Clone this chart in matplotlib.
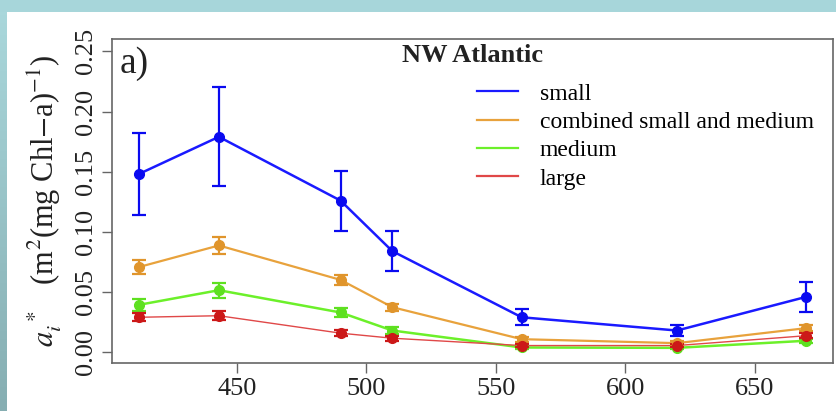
import numpy as np
import matplotlib
matplotlib.use('Agg')
import matplotlib.pyplot as plt
from matplotlib.lines import Line2D
from matplotlib.patches import Rectangle

plt.rcParams.update({
    'font.family': ['Liberation Serif', 'DejaVu Serif'],
    'mathtext.fontset': 'stix',
})

# ---- data ----
wavelength = [412, 443, 490, 510, 560, 620, 670]
series_names = ['small', 'combined small and medium', 'medium', 'large']

small = [0.148, 0.179, 0.126, 0.084, 0.029, 0.018, 0.046]
small_err = [0.034, 0.041, 0.025, 0.0165, 0.0065, 0.0046, 0.0123]

combined = [0.0707, 0.0887, 0.0601, 0.0374, 0.0108, 0.0075, 0.020]
combined_err = [0.006, 0.0068, 0.0042, 0.0029, 0.0022, 0.0018, 0.0025]

medium = [0.0393, 0.0515, 0.033, 0.018, 0.0039, 0.0036, 0.0095]
medium_err = [0.0049, 0.0062, 0.004, 0.0031, 0.0012, 0.001, 0.0015]

large = [0.029, 0.0303, 0.0158, 0.0116, 0.0055, 0.0055, 0.0137]
large_err = [0.0035, 0.0038, 0.0025, 0.002, 0.001, 0.001, 0.002]

yticks = [0.00, 0.05, 0.10, 0.15, 0.20, 0.25]
xticks = [450, 500, 550, 600, 650]

# line colour, point colour, line width
styles = [
    ('#1a1aff', '#0a0af0', 1.8),
    ('#e8a23c', '#e0952c', 1.6),
    ('#6cf02a', '#5ee020', 1.8),
    ('#e04848', '#cc1818', 1.0),
]

W, H = 836, 411
fig = plt.figure(figsize=(W / 100, H / 100), dpi=100)
fig.patch.set_facecolor('#a7d6da')

# white slide area with teal strips on top and left
fig.patches.append(Rectangle((7 / W, 0), 1, 1 - 12 / H, transform=fig.transFigure,
                             facecolor='white', edgecolor='none', zorder=-10))
grad_ax = fig.add_axes([0, 0, 7 / W, 1 - 12 / H])
grad = np.linspace(0, 1, 100).reshape(-1, 1)
grad_ax.imshow(grad, aspect='auto', cmap=matplotlib.colors.LinearSegmentedColormap.from_list(
    'teal', ['#a9d7db', '#86aeb2']), origin='upper')
grad_ax.axis('off')

ax = fig.add_axes([112 / W, 1 - 363 / H, (833 - 112) / W, (363 - 39) / H])
ax.set_facecolor('white')

data = [(small, small_err), (combined, combined_err), (medium, medium_err), (large, large_err)]
for (vals, errs), (lc, pc, lw) in zip(data, styles):
    ax.plot(wavelength, vals, color=lc, lw=lw, zorder=2)
    ax.errorbar(wavelength, vals, yerr=errs, fmt='o', color=pc, ms=7,
                elinewidth=1.6, capsize=5, capthick=1.6, zorder=3)

ax.set_xlim(401.7, 680.3)
ax.set_ylim(-0.009, 0.2603)
ax.set_xticks(xticks)
ax.set_xticklabels([str(v) for v in xticks])
ax.set_yticks(yticks)
ax.set_yticklabels(['%.2f' % v for v in yticks], rotation=90, va='center')

for side in ['top', 'right', 'left', 'bottom']:
    ax.spines[side].set_color('#666666')
    ax.spines[side].set_linewidth(1.2)
ax.tick_params(width=1, color='#666666', labelsize=19, labelcolor='#222222')
ax.tick_params(axis='y', length=7.5, pad=3)
ax.tick_params(axis='x', length=7, pad=4)

ax.text(0.5, 0.948, 'NW Atlantic', transform=ax.transAxes, ha='center', va='center',
        fontsize=19, fontweight='bold', color='#222222')
ax.text(0.01, 0.925, 'a)', transform=ax.transAxes, ha='left', va='center',
        fontsize=27, color='#222222')

fig.text(45 / W, 1 - 201 / H,
         r'$a_i^{\ *}\quad$(m$^2$(mg Chl$-$a)$^{-1}$)',
         rotation=90, ha='center', va='center', fontsize=22, color='#222222')

handles = [Line2D([], [], color=lc, lw=1.6) for lc, pc, lw in styles]
ax.legend(handles, series_names, loc='upper left', bbox_to_anchor=(477 / W, 1 - 83 / H),
          bbox_transform=fig.transFigure, frameon=False, fontsize=17,
          handlelength=1.75, handletextpad=0.9, labelspacing=0.29,
          borderpad=0, borderaxespad=0)

fig.savefig('out.png', dpi=100, facecolor=fig.get_facecolor())
